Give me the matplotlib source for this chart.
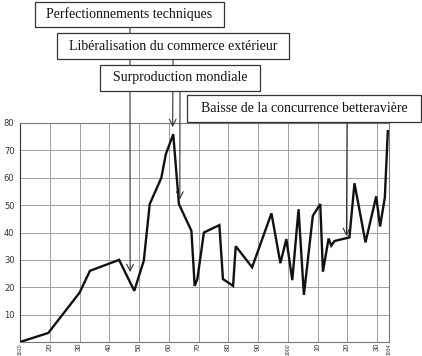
import matplotlib
matplotlib.use("Agg")
import matplotlib.pyplot as plt
from matplotlib.patches import Rectangle

# series
years = [1810, 1819.5, 1830, 1833.5, 1843.3, 1848.4, 1851.6, 1853.6, 1857.5, 1859,
         1861.5, 1863.4, 1867.6, 1868.7, 1869.6, 1871.8, 1877, 1878.2, 1881.6, 1882.5,
         1888, 1894.5, 1897.5, 1899.5, 1901.5, 1903.6, 1905.4, 1908.4, 1910.9, 1911.8,
         1913.7, 1914.6, 1915.7, 1920.7, 1922.4, 1926.1, 1929.7, 1931, 1932.6, 1933.6]
values = [0, 3.3, 18, 26, 30, 18.7, 29.7, 50.4, 60, 68.6,
          75.9, 50.4, 40.6, 20.5, 23, 40, 42.7, 23, 20.5, 35,
          27.3, 47, 28.8, 37.6, 22.6, 48.5, 17.2, 46.1, 50.4, 25.7,
          37.8, 35.2, 36.9, 38.2, 58, 36.4, 53.2, 42.2, 52.8, 77]

xticks = [1810, 1820, 1830, 1840, 1850, 1860, 1870, 1880, 1890, 1900, 1910, 1920, 1930, 1934]
xticklabels = ['1810', '20', '30', '40', '50', '60', '70', '80', '90', '1900', '10', '20', '30', '1934']
yticks = [10, 20, 30, 40, 50, 60, 70, 80]

# annotations: label, box (x0, y0, x1, y1) in image pixels, line x start, arrow tip (year, value)
notes = [
    ("Perfectionnements techniques", (35, 2, 224, 27), 130, (1847, 25.5)),
    ("Libéralisation du commerce extérieur", (57, 33, 289, 59), 173, (1861.3, 78.5)),
    ("Surproduction mondiale", (100, 65, 260, 91), 180, (1863.7, 52)),
    ("Baisse de la concurrence betteravière", (187, 95, 421, 122), 347, (1919.7, 38.7)),
]

W, H = 422, 356
fig = plt.figure(figsize=(W / 100, H / 100), dpi=100)
ax = fig.add_axes([20 / W, 1 - 342 / H, 369 / W, 219 / H])

ax.plot(years, values, color='#111111', lw=1.7, solid_joinstyle='miter', zorder=3)
ax.set_xlim(1810, 1934)
ax.set_ylim(0, 80)
ax.set_xticks(xticks)
ax.set_xticklabels(xticklabels, rotation=90, fontsize=5.5, color='#333333',
                   family='Liberation Sans')
for t in ax.get_xticklabels():
    if len(t.get_text()) > 2:
        t.set_fontsize(3.7)
ax.set_yticks(yticks)
ax.set_yticklabels([str(v) for v in yticks], fontsize=6, color='#333333')
ax.tick_params(length=0)
ax.tick_params(axis='x', pad=0.8)
ax.tick_params(axis='y', pad=4)
ax.grid(True, color='#a0a0a0', lw=0.7)
for s in ax.spines.values():
    s.set_color('#777777')
    s.set_linewidth(0.8)
ax.spines['left'].set_color('#333333')

for label, box, lx, tip in notes:
    ax.annotate('', xy=tip, xycoords='data', xytext=(lx, H - box[3]),
                textcoords='figure pixels', annotation_clip=False,
                arrowprops=dict(arrowstyle='->', color='#333333', lw=0.8,
                                shrinkA=0, shrinkB=0, mutation_scale=12))

# overlay in pixel coordinates for the boxes
ov = fig.add_axes([0, 0, 1, 1], zorder=5)
ov.set_xlim(0, W)
ov.set_ylim(H, 0)
ov.axis('off')
ov.patch.set_alpha(0)
for label, box, lx, tip in notes:
    x0, y0, x1, y1 = box
    ov.add_patch(Rectangle((x0, y0), x1 - x0, y1 - y0, facecolor='white',
                           edgecolor='#333333', lw=0.9))
    ov.text((x0 + x1) / 2, (y0 + y1) / 2, label, ha='center', va='center',
            family='Liberation Serif', fontsize=10, color='#111111')

fig.savefig('out.png', dpi=100)
